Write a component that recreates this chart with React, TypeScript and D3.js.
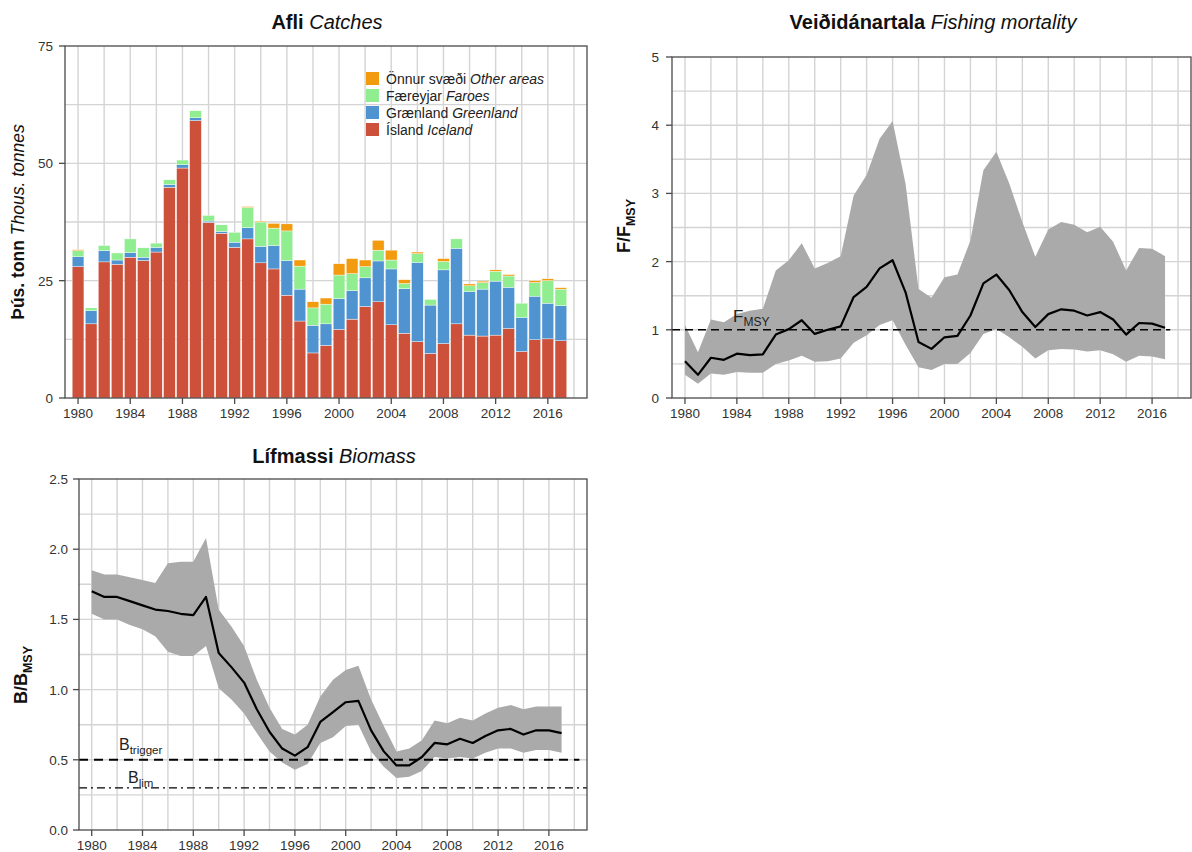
import React from 'react';
import * as d3 from 'd3';

const FONT = "'Liberation Sans', Arial, Helvetica, sans-serif";

const years = [1980,1981,1982,1983,1984,1985,1986,1987,1988,1989,1990,1991,1992,1993,1994,1995,1996,1997,1998,1999,2000,2001,2002,2003,2004,2005,2006,2007,2008,2009,2010,2011,2012,2013,2014,2015,2016,2017];

// Catches, thousand tonnes
const iceland = [28.0,15.8,29.0,28.5,30.0,29.3,31.1,44.9,49.0,59.1,37.4,35.1,32.1,33.9,28.8,27.5,21.9,16.4,9.6,11.2,14.6,16.8,19.5,20.5,15.6,13.8,12.0,9.5,11.6,15.8,13.4,13.2,13.4,14.8,9.9,12.4,12.6,12.2];
const greenland = [2.1,2.8,2.4,0.9,1.0,0.7,1.0,0.6,0.7,0.6,0.3,0.4,1.1,2.4,3.5,5.0,7.4,6.8,5.9,4.6,6.6,6.1,6.1,8.7,11.9,9.5,16.9,10.3,15.7,16.1,9.3,10.0,11.5,8.8,7.3,9.3,7.6,7.5];
const faroes = [1.3,0.6,1.1,1.5,2.9,2.0,0.9,1.0,1.0,1.5,1.2,1.4,2.1,4.3,5.2,3.7,6.3,4.9,3.7,4.2,5.0,3.6,2.4,2.3,1.9,1.1,1.85,1.2,1.8,2.0,1.2,1.4,2.1,2.4,3.0,2.9,4.8,3.5];
const other = [0.2,0,0,0,0,0,0,0,0,0,0,0,0,0.2,0.2,1.0,1.5,1.3,1.3,1.3,2.4,3.2,1.4,2.1,2.1,0.8,0.35,0,0.6,0,0.4,0.3,0.3,0.3,0,0.4,0.4,0.3];

// F / Fmsy
const fMid = [0.54,0.34,0.59,0.56,0.65,0.63,0.64,0.93,1.01,1.14,0.94,1.00,1.05,1.48,1.63,1.90,2.02,1.55,0.82,0.72,0.89,0.91,1.21,1.68,1.81,1.58,1.26,1.04,1.23,1.30,1.28,1.21,1.26,1.15,0.93,1.10,1.09,1.03];
const fHi = [1.07,0.67,1.15,1.11,1.23,1.28,1.31,1.87,2.02,2.27,1.90,1.98,2.08,2.97,3.27,3.80,4.06,3.14,1.60,1.47,1.77,1.81,2.31,3.34,3.61,3.14,2.58,2.07,2.47,2.58,2.54,2.43,2.51,2.29,1.87,2.20,2.19,2.08];
const fLo = [0.34,0.21,0.36,0.34,0.38,0.37,0.37,0.50,0.55,0.62,0.53,0.54,0.58,0.81,0.92,1.07,1.14,0.78,0.45,0.41,0.50,0.50,0.66,0.94,1.01,0.89,0.75,0.58,0.70,0.72,0.71,0.68,0.70,0.64,0.53,0.62,0.61,0.57];

// B / Bmsy
const bMid = [1.70,1.66,1.66,1.63,1.60,1.57,1.56,1.54,1.53,1.66,1.26,1.16,1.05,0.86,0.70,0.58,0.53,0.59,0.77,0.84,0.91,0.92,0.71,0.56,0.46,0.46,0.52,0.62,0.61,0.65,0.62,0.67,0.71,0.72,0.68,0.71,0.71,0.69];
const bHi = [1.85,1.82,1.82,1.80,1.78,1.76,1.90,1.91,1.91,2.08,1.57,1.45,1.31,1.07,0.87,0.72,0.68,0.75,0.95,1.07,1.14,1.17,0.93,0.74,0.56,0.58,0.64,0.78,0.76,0.80,0.78,0.83,0.87,0.89,0.86,0.88,0.88,0.88];
const bLo = [1.54,1.50,1.50,1.46,1.43,1.38,1.27,1.24,1.24,1.31,1.01,0.93,0.83,0.69,0.56,0.48,0.43,0.47,0.62,0.66,0.74,0.75,0.56,0.45,0.37,0.38,0.42,0.52,0.51,0.52,0.51,0.55,0.58,0.58,0.55,0.57,0.57,0.55];

const xTickYears = [1980,1984,1988,1992,1996,2000,2004,2008,2012,2016];
const vGridYears = [1980,1982,1984,1986,1988,1990,1992,1994,1996,1998,2000,2002,2004,2006,2008,2010,2012,2014,2016,2018];
const catchTicks = [0,25,50,75];
const catchGrid = [12.5,25,37.5,50,62.5];
const fTicks = [0,1,2,3,4,5];
const fGrid = [0.5,1,1.5,2,2.5,3,3.5,4,4.5];
const bTicks = [0,0.5,1,1.5,2,2.5];
const bGrid = [0.25,0.5,0.75,1,1.25,1.5,1.75,2,2.25];

const seriesKeys = ['iceland','greenland','faroes','other'];
const seriesColors: Record<string,string> = { iceland: '#cd503a', greenland: '#4f94d0', faroes: '#90ee90', other: '#f29b0e' };
const legendItems = [
  { key: 'other', is: 'Önnur svæði', en: 'Other areas' },
  { key: 'faroes', is: 'Færeyjar', en: 'Faroes' },
  { key: 'greenland', is: 'Grænland', en: 'Greenland' },
  { key: 'iceland', is: 'Ísland', en: 'Iceland' },
];

const GRID = '#d4d4d4';
const AXIS = '#4a4a4a';
const TICKTXT = '#333';

function Frame({ x, y, vGrid, hGrid, yTicks, yFmt, gap, children }: any) {
  const [x0, x1] = x.range();
  const [y0, y1] = y.range();
  return (
    <g>
      {vGrid.map((v: number) => (
        <line key={'v' + v} x1={x(v)} x2={x(v)} y1={y1} y2={y0} stroke={GRID} strokeWidth={1.4} />
      ))}
      {hGrid.map((v: number) => (
        <line key={'h' + v} x1={x0} x2={x1} y1={y(v)} y2={y(v)} stroke={GRID} strokeWidth={1.4} />
      ))}
      {children}
      <rect x={x0} y={y1} width={x1 - x0} height={y0 - y1} fill="none" stroke={AXIS} strokeWidth={1.3} />
      {yTicks.map((v: number) => (
        <g key={'yt' + v}>
          <line x1={x0 - 6} x2={x0} y1={y(v)} y2={y(v)} stroke={AXIS} strokeWidth={1.3} />
          <text x={x0 - gap} y={y(v) + 5} textAnchor="end" fontSize={13.5} fill={TICKTXT} fontFamily={FONT}>{yFmt(v)}</text>
        </g>
      ))}
      {xTickYears.map((v: number) => (
        <g key={'xt' + v}>
          <line x1={x(v)} x2={x(v)} y1={y0} y2={y0 + 6} stroke={AXIS} strokeWidth={1.3} />
          <text x={x(v)} y={y0 + 20} textAnchor="middle" fontSize={13.5} fill={TICKTXT} fontFamily={FONT}>{v}</text>
        </g>
      ))}
    </g>
  );
}

function Title({ x, y, bold, ital }: any) {
  return (
    <text x={x} y={y} textAnchor="middle" fontSize={20} fontFamily={FONT} fill="#111">
      <tspan fontWeight="bold">{bold}</tspan>
      <tspan fontStyle="italic">{' ' + ital}</tspan>
    </text>
  );
}

export default function App() {
  // Catches panel
  const xC = d3.scaleLinear().domain([1979, 2019]).range([65, 587]);
  const yC = d3.scaleLinear().domain([0, 75]).range([398, 46]);
  const rows = years.map((yr, i) => ({ year: yr, iceland: iceland[i], greenland: greenland[i], faroes: faroes[i], other: other[i] }));
  const stack = d3.stack<any>().keys(seriesKeys)(rows);
  const bw = (xC(1981) - xC(1980)) * 0.9;

  // F panel
  const xF = d3.scaleLinear().domain([1979, 2019]).range([672, 1191]);
  const yF = d3.scaleLinear().domain([0, 5]).range([398, 57]);
  const fArea = d3.area<number>().x((_, i) => xF(years[i])).y0((_, i) => yF(fLo[i])).y1((_, i) => yF(fHi[i]));
  const fLine = d3.line<number>().x((_, i) => xF(years[i])).y((d) => yF(d));

  // B panel
  const xB = d3.scaleLinear().domain([1979, 2019]).range([79, 587]);
  const yB = d3.scaleLinear().domain([0, 2.5]).range([830, 479]);
  const bArea = d3.area<number>().x((_, i) => xB(years[i])).y0((_, i) => yB(bLo[i])).y1((_, i) => yB(bHi[i]));
  const bLine = d3.line<number>().x((_, i) => xB(years[i])).y((d) => yB(d));

  return (
    <div style={{ position: 'absolute', left: 0, top: 0 }}>
      <svg width={1192} height={852} style={{ display: 'block', background: '#fff' }}>
        {/* Catches */}
        <Title x={327} y={29} bold="Afli" ital="Catches" />
        <Frame x={xC} y={yC} vGrid={vGridYears} hGrid={catchGrid} yTicks={catchTicks} yFmt={(v: number) => String(v)} gap={12}>
          {stack.map((s: any) => (
            <g key={s.key} fill={seriesColors[s.key]}>
              {s.map((d: any, i: number) => (
                d[1] - d[0] > 0 ? (
                  <rect key={i} x={xC(years[i]) - bw / 2} width={bw} y={yC(d[1])} height={yC(d[0]) - yC(d[1])} stroke="#fff" strokeWidth={0.4} />
                ) : null
              ))}
            </g>
          ))}
          {legendItems.map((it, i) => (
            <g key={it.key}>
              <rect x={366} y={72 + i * 17} width={13} height={13} fill={seriesColors[it.key]} />
              <text x={386} y={84 + i * 17} fontSize={14} fontFamily={FONT} fill="#222">
                <tspan>{it.is}</tspan>
                <tspan fontStyle="italic">{' ' + it.en}</tspan>
              </text>
            </g>
          ))}
        </Frame>
        <text transform="translate(24,222) rotate(-90)" textAnchor="middle" fontSize={17.5} fontFamily={FONT} fill="#111">
          <tspan fontWeight="bold">Þús. tonn</tspan>
          <tspan fontStyle="italic"> Thous. tonnes</tspan>
        </text>

        {/* Fishing mortality */}
        <Title x={933} y={29} bold="Veiðidánartala" ital="Fishing mortality" />
        <Frame x={xF} y={yF} vGrid={vGridYears} hGrid={fGrid} yTicks={fTicks} yFmt={(v: number) => String(v)} gap={13}>
          <path d={fArea(fMid) || ''} fill="#aaaaaa" />
          <line x1={xF(1979)} x2={xF(2017.4)} y1={yF(1)} y2={yF(1)} stroke="#000" strokeWidth={1.5} strokeDasharray="8,5" />
          <path d={fLine(fMid) || ''} fill="none" stroke="#000" strokeWidth={2.2} strokeLinejoin="round" />
          <text x={733} y={322} fontSize={17} fontFamily={FONT} fill="#222">
            F<tspan fontSize={12} dy={4}>MSY</tspan>
          </text>
        </Frame>
        <text transform="translate(630,226) rotate(-90)" textAnchor="middle" fontSize={18} fontFamily={FONT} fontWeight="bold" fill="#111">
          F/F<tspan fontSize={12.5} dy={5}>MSY</tspan>
        </text>

        {/* Biomass */}
        <Title x={334} y={463} bold="Lífmassi" ital="Biomass" />
        <Frame x={xB} y={yB} vGrid={vGridYears} hGrid={bGrid} yTicks={bTicks} yFmt={(v: number) => v.toFixed(1)} gap={11}>
          <path d={bArea(bMid) || ''} fill="#aaaaaa" />
          <line x1={xB(1979)} x2={xB(2018.4)} y1={yB(0.5)} y2={yB(0.5)} stroke="#000" strokeWidth={2} strokeDasharray="9,6" />
          <line x1={xB(1979)} x2={xB(2019)} y1={yB(0.3)} y2={yB(0.3)} stroke="#000" strokeWidth={1.3} strokeDasharray="8,4,2,4" />
          <path d={bLine(bMid) || ''} fill="none" stroke="#000" strokeWidth={2.2} strokeLinejoin="round" />
          <text x={119} y={750} fontSize={16} fontFamily={FONT} fill="#222">
            B<tspan fontSize={11.5} dy={4}>trigger</tspan>
          </text>
          <text x={128} y={783} fontSize={16} fontFamily={FONT} fill="#222">
            B<tspan fontSize={11.5} dy={4}>lim</tspan>
          </text>
        </Frame>
        <text transform="translate(27,675) rotate(-90)" textAnchor="middle" fontSize={18} fontFamily={FONT} fontWeight="bold" fill="#111">
          B/B<tspan fontSize={12.5} dy={5}>MSY</tspan>
        </text>
      </svg>
    </div>
  );
}
